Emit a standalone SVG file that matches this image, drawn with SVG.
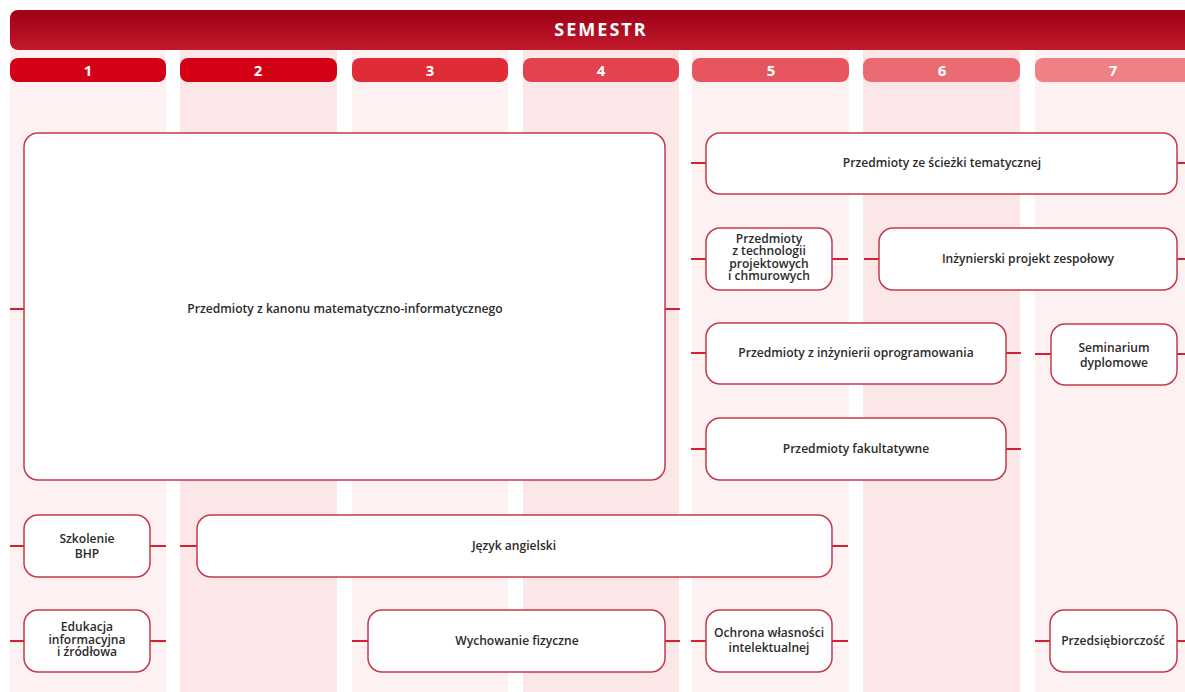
<svg xmlns="http://www.w3.org/2000/svg" width="1185" height="692" viewBox="0 0 1185 692">
<defs>
<linearGradient id="hdr" x1="0" y1="0" x2="0" y2="1">
<stop offset="0" stop-color="#9e0016"/>
<stop offset="1" stop-color="#c2192c"/>
</linearGradient>
<style>
.bgo{fill:#fdf1f2}
.bge{fill:#fbe6e8}
.ch{font-family:"Open Sans","Liberation Sans",sans-serif;font-weight:700;font-size:15px;fill:#fff;text-anchor:middle}
.box{fill:#fff;stroke:#c53a4a;stroke-width:1.5}
.t{font-family:"Open Sans","Liberation Sans",sans-serif;font-weight:600;font-size:12.1px;fill:#2b2b2b;text-anchor:middle}
.c{stroke:#cf2233;stroke-width:2;fill:none}
</style>
</defs>
<rect width="1185" height="692" fill="#fff"/>
<g id="columns">
<rect class="bgo" x="10" y="50" width="156" height="642"/>
<rect class="bge" x="180" y="50" width="157" height="642"/>
<rect class="bgo" x="352" y="50" width="156" height="642"/>
<rect class="bge" x="523" y="50" width="156" height="642"/>
<rect class="bgo" x="692" y="50" width="157" height="642"/>
<rect class="bge" x="863" y="50" width="157" height="642"/>
<rect class="bgo" x="1035" y="50" width="160" height="642"/>
</g>
<g id="header">
<rect x="10" y="10" width="1190" height="40" rx="8" fill="url(#hdr)"/>
<text x="601" y="35.5" font-family="'Open Sans','Liberation Sans',sans-serif" font-weight="700" font-size="18" fill="#fff" text-anchor="middle" letter-spacing="2">SEMESTR</text>
</g>
<g id="semesters">
<rect x="10" y="58" width="156" height="24" rx="8" fill="#d30016"/>
<text class="ch" x="88" y="76">1</text>
<rect x="180" y="58" width="157" height="24" rx="8" fill="#d40016"/>
<text class="ch" x="258" y="76">2</text>
<rect x="352" y="58" width="156" height="24" rx="8" fill="#df2c37"/>
<text class="ch" x="430" y="76">3</text>
<rect x="523" y="58" width="156" height="24" rx="8" fill="#e3434e"/>
<text class="ch" x="601" y="76">4</text>
<rect x="692" y="58" width="157" height="24" rx="8" fill="#e75660"/>
<text class="ch" x="771" y="76">5</text>
<rect x="863" y="58" width="157" height="24" rx="8" fill="#ea6b71"/>
<text class="ch" x="942" y="76">6</text>
<rect x="1035" y="58" width="165" height="24" rx="8" fill="#ef8086"/>
<text class="ch" x="1113" y="76">7</text>
</g>
<g id="connectors">
<path class="c" d="M10 309H24M665 309H680"/>
<path class="c" d="M691 163H706M1177 163H1185"/>
<path class="c" d="M691 259H706M832 259H848"/>
<path class="c" d="M864 259H879M1177 259H1185"/>
<path class="c" d="M691 353H706M1006 353H1021"/>
<path class="c" d="M1035 354H1051M1177 354H1185"/>
<path class="c" d="M691 449H706M1006 449H1021"/>
<path class="c" d="M10 546H24M150 546H166"/>
<path class="c" d="M180 546H197M832 546H848"/>
<path class="c" d="M10 641H24M150 641H166"/>
<path class="c" d="M352 641H368M665 641H680"/>
<path class="c" d="M691 641H706M832 641H848"/>
<path class="c" d="M1035 641H1050M1177 641H1185"/>
</g>
<g id="n-kanon">
<rect class="box" x="24" y="133" width="641" height="347" rx="14"/>
<text class="t" x="345" y="313">Przedmioty z kanonu matematyczno-informatycznego</text>
</g>
<g id="n-sciezka">
<rect class="box" x="706" y="133" width="471" height="61" rx="14"/>
<text class="t" x="942" y="167">Przedmioty ze ścieżki tematycznej</text>
</g>
<g id="n-technologie">
<rect class="box" x="706" y="228" width="126" height="62" rx="14"/>
<text class="t" x="769" y="243">Przedmioty</text>
<text class="t" x="769" y="255.3">z technologii</text>
<text class="t" x="769" y="267.6">projektowych</text>
<text class="t" x="769" y="280">i chmurowych</text>
</g>
<g id="n-projekt">
<rect class="box" x="879" y="228" width="298" height="62" rx="14"/>
<text class="t" x="1028" y="263">Inżynierski projekt zespołowy</text>
</g>
<g id="n-inzynieria">
<rect class="box" x="706" y="323" width="300" height="61" rx="14"/>
<text class="t" x="856" y="357">Przedmioty z inżynierii oprogramowania</text>
</g>
<g id="n-seminarium">
<rect class="box" x="1051" y="324" width="126" height="61" rx="14"/>
<text class="t" x="1114" y="352">Seminarium</text>
<text class="t" x="1114" y="367">dyplomowe</text>
</g>
<g id="n-fakultatywne">
<rect class="box" x="706" y="418" width="300" height="62" rx="14"/>
<text class="t" x="856" y="453">Przedmioty fakultatywne</text>
</g>
<g id="n-bhp">
<rect class="box" x="24" y="515" width="126" height="62" rx="14"/>
<text class="t" x="87" y="543">Szkolenie</text>
<text class="t" x="87" y="558">BHP</text>
</g>
<g id="n-angielski">
<rect class="box" x="197" y="515" width="635" height="62" rx="14"/>
<text class="t" x="514" y="550">Język angielski</text>
</g>
<g id="n-edukacja">
<rect class="box" x="24" y="610" width="126" height="62" rx="14"/>
<text class="t" x="87" y="631">Edukacja</text>
<text class="t" x="87" y="643.5">informacyjna</text>
<text class="t" x="87" y="656">i źródłowa</text>
</g>
<g id="n-wf">
<rect class="box" x="368" y="610" width="297" height="62" rx="14"/>
<text class="t" x="517" y="645">Wychowanie fizyczne</text>
</g>
<g id="n-ochrona">
<rect class="box" x="706" y="610" width="126" height="62" rx="14"/>
<text class="t" x="769" y="637">Ochrona własności</text>
<text class="t" x="769" y="652">intelektualnej</text>
</g>
<g id="n-przedsiebiorczosc">
<rect class="box" x="1050" y="610" width="127" height="62" rx="14"/>
<text class="t" x="1113" y="645">Przedsiębiorczość</text>
</g>
</svg>
